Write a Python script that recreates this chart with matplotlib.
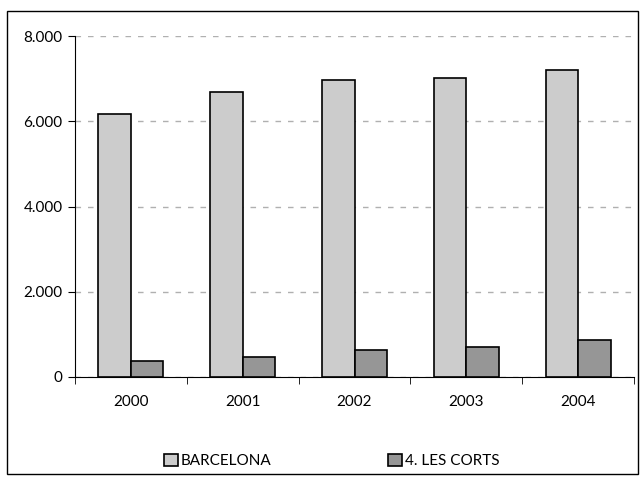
import numpy as np
import matplotlib.pyplot as plt
from matplotlib.patches import Rectangle

anys = ["2000", "2001", "2002", "2003", "2004"]
barcelona = [6170, 6680, 6960, 7010, 7200]
les_corts = [375, 470, 625, 695, 860]

plt.rcParams['font.family'] = ['Lato', 'DejaVu Sans']

fig = plt.figure(figsize=(6.44, 4.8), dpi=100)
ax = fig.add_axes([75/644, 1-377/480, 559/644, 341/480])

x = np.arange(len(anys))
w = 0.29
ax.bar(x - w/2, barcelona, w, color='#cccccc', edgecolor='black', linewidth=1.2,
       label='BARCELONA', zorder=3)
ax.bar(x + w/2, les_corts, w, color='#969696', edgecolor='black', linewidth=1.2,
       label='4. LES CORTS', zorder=3)

ax.set_xlim(-0.5, len(anys) - 0.5)
ax.set_ylim(0, 8000)
ax.set_yticks([0, 2000, 4000, 6000, 8000])
ax.set_yticklabels(['0', '2.000', '4.000', '6.000', '8.000'], fontsize=11)
ax.yaxis.grid(True, linestyle=(0, (4, 5)), color='#b0b0b0', linewidth=1, zorder=0)

ax.set_xticks(x)
ax.set_xticklabels(anys, fontsize=11)
ax.tick_params(axis='x', length=0, pad=13)
ax.set_xticks(np.arange(-0.5, len(anys)), minor=True)
ax.tick_params(axis='x', which='minor', length=5, direction='out')
ax.tick_params(axis='y', length=5, direction='out', pad=4)

for s in ['top', 'right']:
    ax.spines[s].set_visible(False)

fig.legend(loc='center', bbox_to_anchor=(0.515, 1-461/480), ncol=2, frameon=False,
           fontsize=11, handlelength=0.9, handleheight=0.9, handletextpad=0.2,
           columnspacing=7.6)

fig.patches.append(Rectangle((7/644, 1-474/480), 631/644, 463/480, transform=fig.transFigure,
                             fill=False, edgecolor='black', linewidth=1))

fig.savefig('out.png', dpi=100)
